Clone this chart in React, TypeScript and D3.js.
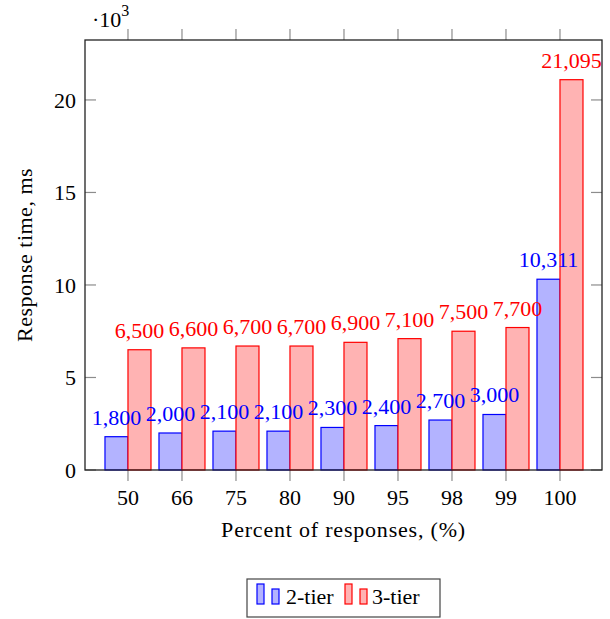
import React from "react";
import * as d3 from "d3";

const categories = ["50", "66", "75", "80", "90", "95", "98", "99", "100"];
const twoTier = [1800, 2000, 2100, 2100, 2300, 2400, 2700, 3000, 10311];
const threeTier = [6500, 6600, 6700, 6700, 6900, 7100, 7500, 7700, 21095];
const yTicks = [0, 5000, 10000, 15000, 20000];
const seriesNames = ["2-tier", "3-tier"];

const W = 610;
const H = 619;
const left = 85, right = 602, top = 40, bottom = 470;
const FONT = "'Liberation Serif', 'Times New Roman', serif";

export default function App() {
  const x = d3.scaleLinear().domain([-0.796, 8.778]).range([left, right]);
  const y = d3.scaleLinear().domain([0, 23240]).range([bottom, top]);
  const step = x(1) - x(0);
  const bw = step * 0.426;
  const fmt = d3.format(",");
  const blue = "#0000ff", red = "#ff0000";
  const blueFill = "#b3b3ff", redFill = "#ffb3b3";
  const tickCol = "#8c8c8c";
  const fs = 22;

  return (
    <svg width={W} height={H} style={{ position: "absolute", left: 0, top: 0, background: "#fff" }} fontFamily={FONT}>
      {yTicks.map((t) => (
        <g key={"yt" + t}>
          <line x1={left} x2={left + 11} y1={y(t)} y2={y(t)} stroke={tickCol} strokeWidth={1.2} />
          <line x1={right - 11} x2={right} y1={y(t)} y2={y(t)} stroke={tickCol} strokeWidth={1.2} />
          <text x={76} y={y(t)} dy="0.35em" textAnchor="end" fontSize={fs} fill="#000">{t / 1000}</text>
        </g>
      ))}
      {categories.map((c, i) => (
        <g key={"xt" + c}>
          <line x1={x(i)} x2={x(i)} y1={bottom} y2={bottom + 11} stroke={tickCol} strokeWidth={1.2} />
          <line x1={x(i)} x2={x(i)} y1={top - 11} y2={top} stroke={tickCol} strokeWidth={1.2} />
          <text x={x(i)} y={505} textAnchor="middle" fontSize={fs} fill="#000">{c}</text>
        </g>
      ))}
      {twoTier.map((v, i) => (
        <rect key={"b2" + i} x={x(i) - bw} y={y(v)} width={bw} height={y(0) - y(v)} fill={blueFill} stroke={blue} strokeWidth={1.2} />
      ))}
      {threeTier.map((v, i) => (
        <rect key={"b3" + i} x={x(i)} y={y(v)} width={bw} height={y(0) - y(v)} fill={redFill} stroke={red} strokeWidth={1.2} />
      ))}
      {twoTier.map((v, i) => (
        <text key={"l2" + i} x={x(i) - bw / 2} y={y(v) - 12} textAnchor="middle" fontSize={fs} fill={blue}>{fmt(v)}</text>
      ))}
      {threeTier.map((v, i) => (
        <text key={"l3" + i} x={x(i) + bw / 2} y={y(v) - 12} textAnchor="middle" fontSize={fs} fill={red}>{fmt(v)}</text>
      ))}
      <rect x={left} y={top} width={right - left} height={bottom - top} fill="none" stroke="#222" strokeWidth={1.3} />
      <text x={92} y={27} fontSize={fs} fill="#000">·10<tspan dy={-11} fontSize={16}>3</tspan></text>
      <text x={(left + right) / 2} y={537} textAnchor="middle" fontSize={fs} letterSpacing={0.8} fill="#000">Percent of responses, (%)</text>
      <text transform={`translate(32,${(top + bottom) / 2}) rotate(-90)`} textAnchor="middle" fontSize={fs} letterSpacing={0.5} fill="#000">Response time, ms</text>
      <rect x={247} y={579} width={193} height={38} fill="#fff" stroke="#444" strokeWidth={1.2} />
      <rect x={257} y={584} width={7} height={20} fill={blueFill} stroke={blue} strokeWidth={1.2} />
      <rect x={272} y={589} width={7} height={15} fill={blueFill} stroke={blue} strokeWidth={1.2} />
      <text x={286} y={604} fontSize={fs} fill="#000">{seriesNames[0]}</text>
      <rect x={345} y={584} width={7} height={20} fill={redFill} stroke={red} strokeWidth={1.2} />
      <rect x={360} y={589} width={7} height={15} fill={redFill} stroke={red} strokeWidth={1.2} />
      <text x={372} y={604} fontSize={fs} fill="#000">{seriesNames[1]}</text>
    </svg>
  );
}
